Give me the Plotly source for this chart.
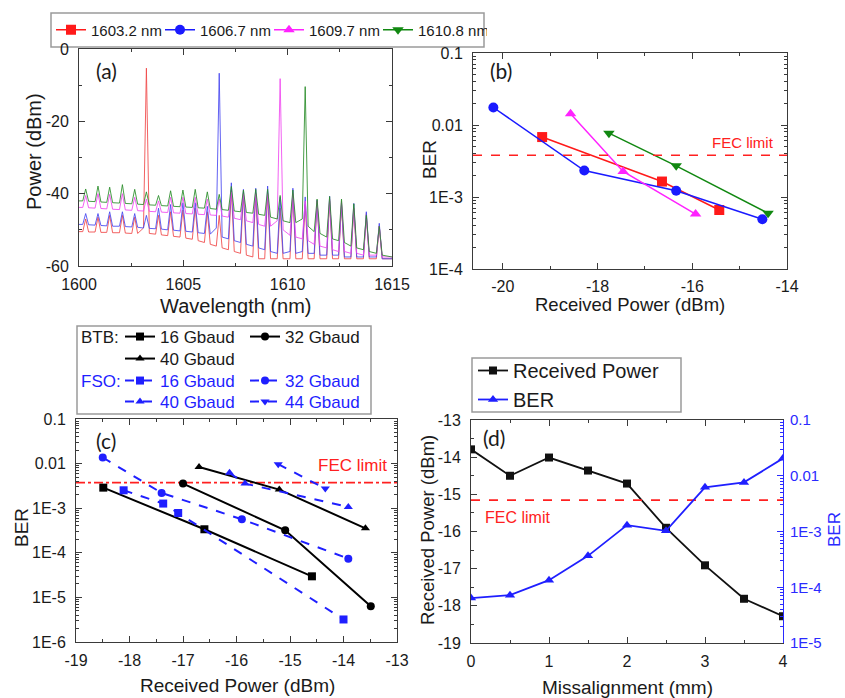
import plotly.graph_objects as go

# ---------------- data ----------------
# (a) optical spectra (wavelength grid shared by the four traces)
spec_wl = [1600.00,
           1600.18, 1600.32, 1600.46, 1600.77, 1600.91, 1601.05, 1601.33, 1601.47, 1601.61,
           1601.94, 1602.08, 1602.22, 1602.53, 1602.67, 1602.81, 1603.09, 1603.23, 1603.37,
           1603.67, 1603.81, 1603.95, 1604.25, 1604.39, 1604.53, 1604.84, 1604.98, 1605.12,
           1605.43, 1605.57, 1605.71, 1606.01, 1606.15, 1606.29, 1606.58, 1606.72, 1606.86,
           1607.16, 1607.30, 1607.44, 1607.74, 1607.88, 1608.02, 1608.33, 1608.47, 1608.61,
           1608.90, 1609.04, 1609.18, 1609.50, 1609.64, 1609.78, 1610.11, 1610.25, 1610.39,
           1610.70, 1610.84, 1610.98, 1611.27, 1611.41, 1611.55, 1611.87, 1612.01, 1612.15,
           1612.44, 1612.58, 1612.72, 1613.03, 1613.17, 1613.31, 1613.63, 1613.77, 1613.91,
           1614.25, 1614.39, 1614.53,
           1615.00]
spec_1603 = [-50.5,
             -50.5, -47.0, -50.6, -50.6, -46.5, -50.7, -50.7, -46.0, -50.8,
             -50.8, -46.0, -50.9, -51.0, -46.5, -51.0, -49.5, -5.3, -51.0,
             -51.2, -46.0, -51.4, -51.6, -45.0, -51.8, -52.0, -44.5, -52.3,
             -52.6, -44.0, -53.0, -53.5, -45.0, -54.0, -54.5, -46.0, -55.0,
             -55.5, -39.0, -56.0, -56.5, -40.0, -57.0, -57.5, -40.0, -58.0,
             -58.0, -40.0, -58.0, -58.0, -44.0, -58.0, -58.0, -40.0, -58.0,
             -58.0, -43.0, -58.0, -58.0, -42.0, -58.0, -58.0, -42.0, -58.0,
             -58.0, -43.0, -58.0, -58.0, -44.0, -58.0, -58.0, -45.5, -58.0,
             -58.0, -49.0, -58.0,
             -58.0]
spec_1606 = [-48.5,
             -48.5, -45.5, -48.6, -48.7, -45.5, -48.8, -48.9, -45.0, -49.0,
             -49.0, -45.0, -49.1, -49.2, -45.5, -49.3, -49.5, -46.0, -49.6,
             -49.7, -44.0, -49.8, -50.0, -43.0, -50.1, -50.3, -42.5, -50.4,
             -50.6, -42.5, -50.8, -51.0, -43.5, -51.2, -49.5, -6.7, -52.0,
             -52.5, -37.0, -53.0, -53.5, -38.8, -54.0, -54.5, -38.5, -55.0,
             -55.5, -37.9, -56.0, -56.5, -41.0, -56.5, -56.0, -38.5, -56.5,
             -56.0, -40.9, -56.5, -56.5, -41.8, -57.0, -57.0, -40.7, -57.0,
             -57.0, -42.5, -57.5, -57.5, -42.7, -57.5, -57.5, -45.0, -57.5,
             -57.5, -48.2, -58.0,
             -58.0]
spec_1609 = [-43.8,
             -43.8, -40.5, -43.9, -44.0, -40.0, -44.1, -44.2, -40.2, -44.3,
             -44.4, -40.0, -44.5, -44.6, -41.0, -44.7, -44.8, -41.5, -44.9,
             -45.0, -42.0, -45.1, -45.2, -41.0, -45.3, -45.4, -41.0, -45.5,
             -45.6, -41.0, -45.7, -45.8, -41.5, -45.9, -46.0, -41.5, -46.2,
             -46.5, -39.5, -46.8, -47.2, -40.0, -47.5, -48.0, -40.0, -48.5,
             -49.0, -40.0, -49.0, -47.5, -8.2, -50.0, -51.5, -40.0, -52.0,
             -52.5, -42.0, -53.0, -54.0, -42.0, -54.5, -55.0, -41.5, -55.5,
             -56.0, -42.0, -56.0, -56.5, -44.0, -56.5, -57.0, -47.0, -57.0,
             -57.0, -49.0, -57.5,
             -57.5]
spec_1610 = [-42.0,
             -42.0, -38.7, -42.1, -42.2, -37.9, -42.3, -42.4, -38.2, -42.5,
             -42.6, -37.5, -42.7, -42.8, -38.8, -42.9, -43.0, -39.5, -43.1,
             -43.2, -40.5, -43.3, -43.4, -39.2, -43.5, -43.6, -39.0, -43.7,
             -43.8, -38.8, -43.9, -44.0, -39.5, -44.1, -44.3, -40.2, -44.4,
             -44.6, -38.0, -44.8, -45.0, -39.0, -45.2, -45.4, -38.8, -45.7,
             -46.0, -38.8, -46.5, -47.0, -40.5, -47.5, -48.0, -39.0, -48.0,
             -47.0, -10.4, -49.0, -50.5, -41.5, -51.0, -52.0, -40.8, -52.5,
             -53.0, -41.5, -53.5, -54.5, -42.8, -55.0, -55.5, -46.0, -56.0,
             -56.5, -49.0, -57.0,
             -57.5]

# (b) BER vs received power for four wavelengths
b_names = ["1603.2 nm", "1606.7 nm", "1609.7 nm", "1610.8 nm"]
b_x_1603 = [-19.17, -16.64, -15.43]
b_y_1603 = [6.8e-3, 1.64e-3, 6.6e-4]
b_x_1606 = [-20.20, -18.28, -16.34, -14.52]
b_y_1606 = [1.75e-2, 2.33e-3, 1.22e-3, 4.9e-4]
b_x_1609 = [-18.57, -17.46, -15.93]
b_y_1609 = [1.43e-2, 2.26e-3, 5.8e-4]
b_x_1610 = [-17.76, -16.34, -14.40]
b_y_1610 = [7.7e-3, 2.71e-3, 5.96e-4]
fec_b = 3.8e-3

# (c) BTB and FSO BER curves
c_btb16_x = [-18.49, -16.60, -14.59]
c_btb16_y = [2.89e-3, 3.37e-4, 2.97e-5]
c_btb32_x = [-17.00, -15.09, -13.49]
c_btb32_y = [3.56e-3, 3.19e-4, 6.3e-6]
c_btb40_x = [-16.70, -15.20, -13.59]
c_btb40_y = [8.4e-3, 2.61e-3, 3.54e-4]
c_fso16_x = [-18.11, -17.37, -17.09, -14.00]
c_fso16_y = [2.52e-3, 1.27e-3, 7.8e-4, 3.2e-6]
c_fso32_x = [-18.50, -17.40, -15.90, -13.91]
c_fso32_y = [1.37e-2, 2.2e-3, 5.64e-4, 7.4e-5]
c_fso40_x = [-16.13, -15.84, -13.91]
c_fso40_y = [6.2e-3, 3.56e-3, 1.07e-3]
c_fso44_x = [-15.22, -14.34]
c_fso44_y = [9.7e-3, 2.75e-3]
fec_c = 3.75e-3

# (d) misalignment
d_mis = [0, 0.5, 1, 1.5, 2, 2.5, 3, 3.5, 4]
d_power = [-13.79, -14.50, -14.01, -14.36, -14.71, -15.90, -16.91, -17.81, -18.28]
d_ber = [6.4e-5, 7.2e-5, 1.34e-4, 3.66e-4, 1.30e-3, 1.03e-3, 6.2e-3, 7.6e-3, 2.05e-2]
fec_d = 3.66e-3

# tick labels
a_xticks = [1600, 1605, 1610, 1615]
a_xtext = ["1600", "1605", "1610", "1615"]
a_yticks = [-60, -40, -20, 0]
a_ytext = ["-60", "-40", "-20", "0"]
b_xticks = [-20, -18, -16, -14]
b_xtext = ["-20", "-18", "-16", "-14"]
b_yticks = [1e-4, 1e-3, 1e-2, 1e-1]
b_ytext = ["1E-4", "1E-3", "0.01", "0.1"]
c_xticks = [-19, -18, -17, -16, -15, -14, -13]
c_xtext = ["-19", "-18", "-17", "-16", "-15", "-14", "-13"]
c_yticks = [1e-6, 1e-5, 1e-4, 1e-3, 1e-2, 1e-1]
c_ytext = ["1E-6", "1E-5", "1E-4", "1E-3", "0.01", "0.1"]
d_xticks = [0, 1, 2, 3, 4]
d_xtext = ["0", "1", "2", "3", "4"]
d_yticks = [-19, -18, -17, -16, -15, -14, -13]
d_ytext = ["-19", "-18", "-17", "-16", "-15", "-14", "-13"]
d_y2ticks = [1e-5, 1e-4, 1e-3, 1e-2, 1e-1]
d_y2text = ["1E-5", "1E-4", "1E-3", "0.01", "0.1"]

# ---------------- layout helpers ----------------
W, H = 845, 698


def px(x):
    return x / W


def py(y):
    return 1 - y / H


FONT = "Liberation Sans, Arial, sans-serif"
AXC = "#3a3a3a"
RED, BLUE, MAG, GRN = "#ff1a1a", "#1a1aff", "#ff22ff", "#118811"


def log_minor(lo, hi):
    return [m * 10 ** e for e in range(lo, hi) for m in range(2, 10)]


def axis(domain, anchor, rng, tickvals, ticktext, minor, typ="linear", color=AXC,
         side=None, mirror="ticks", overlaying=None, standoff=4, fsize=16):
    d = dict(domain=domain, anchor=anchor, range=rng, type=typ,
             tickmode="array", tickvals=tickvals, ticktext=ticktext,
             showline=True, linecolor=color, linewidth=1, mirror=mirror,
             ticks="inside", ticklen=6, tickcolor=color, tickwidth=1,
             showgrid=False, zeroline=False,
             tickfont=dict(family=FONT, size=fsize, color="#1a1a1a" if color == AXC else color),
             ticklabelstandoff=standoff,
             minor=dict(ticks="inside", ticklen=3, tickcolor=color, showgrid=False, **minor))
    if side:
        d["side"] = side
    if overlaying:
        d["overlaying"] = overlaying
    return d


fig = go.Figure()

# (a)
for name, ys, col in [("1603.2 nm", spec_1603, "rgba(240,70,70,0.85)"),
                      ("1606.7 nm", spec_1606, "rgba(70,70,240,0.85)"),
                      ("1609.7 nm", spec_1609, "rgba(240,70,240,0.85)"),
                      ("1610.8 nm", spec_1610, "rgba(40,140,40,0.85)")]:
    fig.add_trace(go.Scatter(x=spec_wl, y=ys, mode="lines", line=dict(color=col, width=1),
                             showlegend=False, hoverinfo="skip", xaxis="x", yaxis="y"))

# (b)
for name, xs, ys, col, sym in [(b_names[0], b_x_1603, b_y_1603, RED, "square"),
                               (b_names[1], b_x_1606, b_y_1606, BLUE, "circle"),
                               (b_names[2], b_x_1609, b_y_1609, MAG, "triangle-up"),
                               (b_names[3], b_x_1610, b_y_1610, GRN, "triangle-down")]:
    fig.add_trace(go.Scatter(x=xs, y=ys, name=name, mode="lines+markers",
                             line=dict(color=col, width=1.5),
                             marker=dict(symbol=sym, size=10, color=col),
                             xaxis="x2", yaxis="y2", legend="legend"))
b_xrange = [-20.63, -14]
fig.add_trace(go.Scatter(x=b_xrange, y=[fec_b, fec_b], mode="lines",
                         line=dict(color="#ff2020", width=1.5, dash="dash"),
                         showlegend=False, hoverinfo="skip", xaxis="x2", yaxis="y2"))

# (c)
fig.add_trace(go.Scatter(x=[-19, -13], y=[fec_c, fec_c], mode="lines",
                         line=dict(color="#ff2020", width=1.8, dash="dashdot"),
                         showlegend=False, hoverinfo="skip", xaxis="x3", yaxis="y3"))
c_series = [
    ("16 Gbaud", c_btb16_x, c_btb16_y, "black", "solid", "square", "legend2"),
    ("32 Gbaud", c_btb32_x, c_btb32_y, "black", "solid", "circle", "legend2"),
    ("40 Gbaud", c_btb40_x, c_btb40_y, "black", "solid", "triangle-up", "legend3"),
    ("16 Gbaud", c_fso16_x, c_fso16_y, "#1f1fff", "dash", "square", "legend4"),
    ("32 Gbaud", c_fso32_x, c_fso32_y, "#1f1fff", "dash", "circle", "legend4"),
    ("40 Gbaud", c_fso40_x, c_fso40_y, "#1f1fff", "dash", "triangle-up", "legend5"),
    ("44 Gbaud", c_fso44_x, c_fso44_y, "#1f1fff", "dash", "triangle-down", "legend5"),
]
for name, xs, ys, col, dash, sym, lg in c_series:
    fig.add_trace(go.Scatter(x=xs, y=ys, name=name, mode="lines+markers",
                             line=dict(color=col, width=2, dash=dash),
                             marker=dict(symbol=sym, size=8, color=col),
                             xaxis="x3", yaxis="y3", legend=lg))

# (d)
fig.add_trace(go.Scatter(x=[0, 4], y=[fec_d, fec_d], mode="lines",
                         line=dict(color="#ff2020", width=1.8, dash="dash"),
                         showlegend=False, hoverinfo="skip", xaxis="x4", yaxis="y5"))
fig.add_trace(go.Scatter(x=d_mis, y=d_power, name="Received Power", mode="lines+markers",
                         line=dict(color="#111111", width=1.8),
                         marker=dict(symbol="square", size=8, color="#111111"),
                         xaxis="x4", yaxis="y4", legend="legend6"))
fig.add_trace(go.Scatter(x=d_mis, y=d_ber, name="BER", mode="lines+markers",
                         line=dict(color="#1f1fff", width=1.8),
                         marker=dict(symbol="triangle-up", size=9, color="#1f1fff"),
                         xaxis="x4", yaxis="y5", legend="legend6"))

LG = dict(bgcolor="rgba(0,0,0,0)", borderwidth=0, itemclick=False, itemdoubleclick=False)
layout = dict(
    width=W, height=H, margin=dict(l=0, r=0, t=0, b=0, autoexpand=False),
    paper_bgcolor="white", plot_bgcolor="white",
    font=dict(family=FONT, size=16, color="#1a1a1a"),
    xaxis=axis([px(79), px(392)], "y", [1600, 1615], a_xticks, a_xtext, dict(dtick=2.5, tick0=1600)),
    yaxis=axis([py(266), py(49)], "x", [-60, 0], a_yticks, a_ytext, dict(dtick=10, tick0=0), standoff=6),
    xaxis2=axis([px(473), px(787)], "y2", b_xrange, b_xticks, b_xtext, dict(dtick=1, tick0=0), standoff=3),
    yaxis2=axis([py(269), py(53)], "x2", [-4, -1], b_yticks, b_ytext,
                dict(tickmode="array", tickvals=log_minor(-4, -1)), typ="log", standoff=6),
    xaxis3=axis([px(76), px(397)], "y3", [-19, -13], c_xticks, c_xtext, dict(dtick=0.5, tick0=0)),
    yaxis3=axis([py(642), py(419)], "x3", [-6, -1], c_yticks, c_ytext,
                dict(tickmode="array", tickvals=log_minor(-6, -1)), typ="log", standoff=6),
    xaxis4=axis([px(471), px(783)], "y4", [0, 4], d_xticks, d_xtext, dict(dtick=0.5, tick0=0)),
    yaxis4=axis([py(643), py(420)], "x4", [-19, -13], d_yticks, d_ytext, dict(dtick=0.5, tick0=0),
                mirror=False, standoff=6),
    yaxis5=axis([py(643), py(420)], "x4", [-5, -1], d_y2ticks, d_y2text,
                dict(tickmode="array", tickvals=log_minor(-5, -1)), typ="log", color="#2a2aff",
                side="right", mirror=False, overlaying="y4", standoff=3, fsize=15),
    legend=dict(orientation="h", x=px(51), y=py(30), xanchor="left", yanchor="middle",
                entrywidth=64, font=dict(family=FONT, size=15, color="#1a1a1a"), **LG),
    legend2=dict(orientation="h", x=px(120), y=py(337), xanchor="left", yanchor="middle",
                 entrywidth=80, font=dict(family=FONT, size=17, color="#1a1a1a"), **LG),
    legend3=dict(orientation="h", x=px(120), y=py(359), xanchor="left", yanchor="middle",
                 entrywidth=80, font=dict(family=FONT, size=17, color="#1a1a1a"), **LG),
    legend4=dict(orientation="h", x=px(120), y=py(381), xanchor="left", yanchor="middle",
                 entrywidth=80, font=dict(family=FONT, size=17, color="#1f1fff"), **LG),
    legend5=dict(orientation="h", x=px(120), y=py(402), xanchor="left", yanchor="middle",
                 entrywidth=80, font=dict(family=FONT, size=17, color="#1f1fff"), **LG),
    legend6=dict(orientation="v", x=px(473), y=py(385), xanchor="left", yanchor="middle",
                 font=dict(family=FONT, size=20, color="#1a1a1a"), **LG),
)
fig.update_layout(**layout)

# legend boxes
box = dict(type="rect", xref="paper", yref="paper", line=dict(color="#9a9a9a", width=1.5),
           fillcolor="rgba(0,0,0,0)", layer="below")
fig.add_shape(x0=px(51), x1=px(484), y0=py(47), y1=py(13), **box)
fig.add_shape(x0=px(77), x1=px(371), y0=py(414), y1=py(326), **box)
fig.add_shape(x0=px(472), x1=px(681), y0=py(412), y1=py(358), **box)


def note(text, x, y, size=19, color="#1a1a1a", angle=0, family=FONT, xanchor="center"):
    fig.add_annotation(text=text, x=px(x), y=py(y), xref="paper", yref="paper",
                       showarrow=False, textangle=angle, xanchor=xanchor, yanchor="middle",
                       font=dict(family=family, size=size, color=color))


# axis titles
note("Wavelength (nm)", 236, 306, size=20)
note("Power (dBm)", 34, 152, size=20, angle=-90)
note("Received Power (dBm)", 630, 304, size=18.5)
note("BER", 429, 160, size=19, angle=-90)
note("Received Power (dBm)", 237, 685, size=19)
note("BER", 21, 528, size=19, angle=-90)
note("Missalignment (mm)", 627, 687, size=19)
note("Received Power (dBm)", 427, 530, size=18.5, angle=-90)
note("BER", 834, 530, size=17, angle=-90, color="#2a2aff")

# panel labels
for lbl, x, y in [("(a)", 106, 70), ("(b)", 501, 70), ("(c)", 106, 440), ("(d)", 494, 437)]:
    note(lbl, x, y, size=21, family="Lato, Carlito, sans-serif")

# FEC labels
note("FEC limit", 743, 142, size=15, color="#ff2020")
note("FEC limit", 352, 465, size=17, color="#ff2020")
note("FEC limit", 517, 517, size=16, color="#ff2020")

# legend row prefixes
note("BTB:", 79, 337, size=17, xanchor="left")
note("FSO:", 79, 381, size=17, color="#1f1fff", xanchor="left")

fig.write_html("out.html", post_script="document.body.style.margin='0';")
